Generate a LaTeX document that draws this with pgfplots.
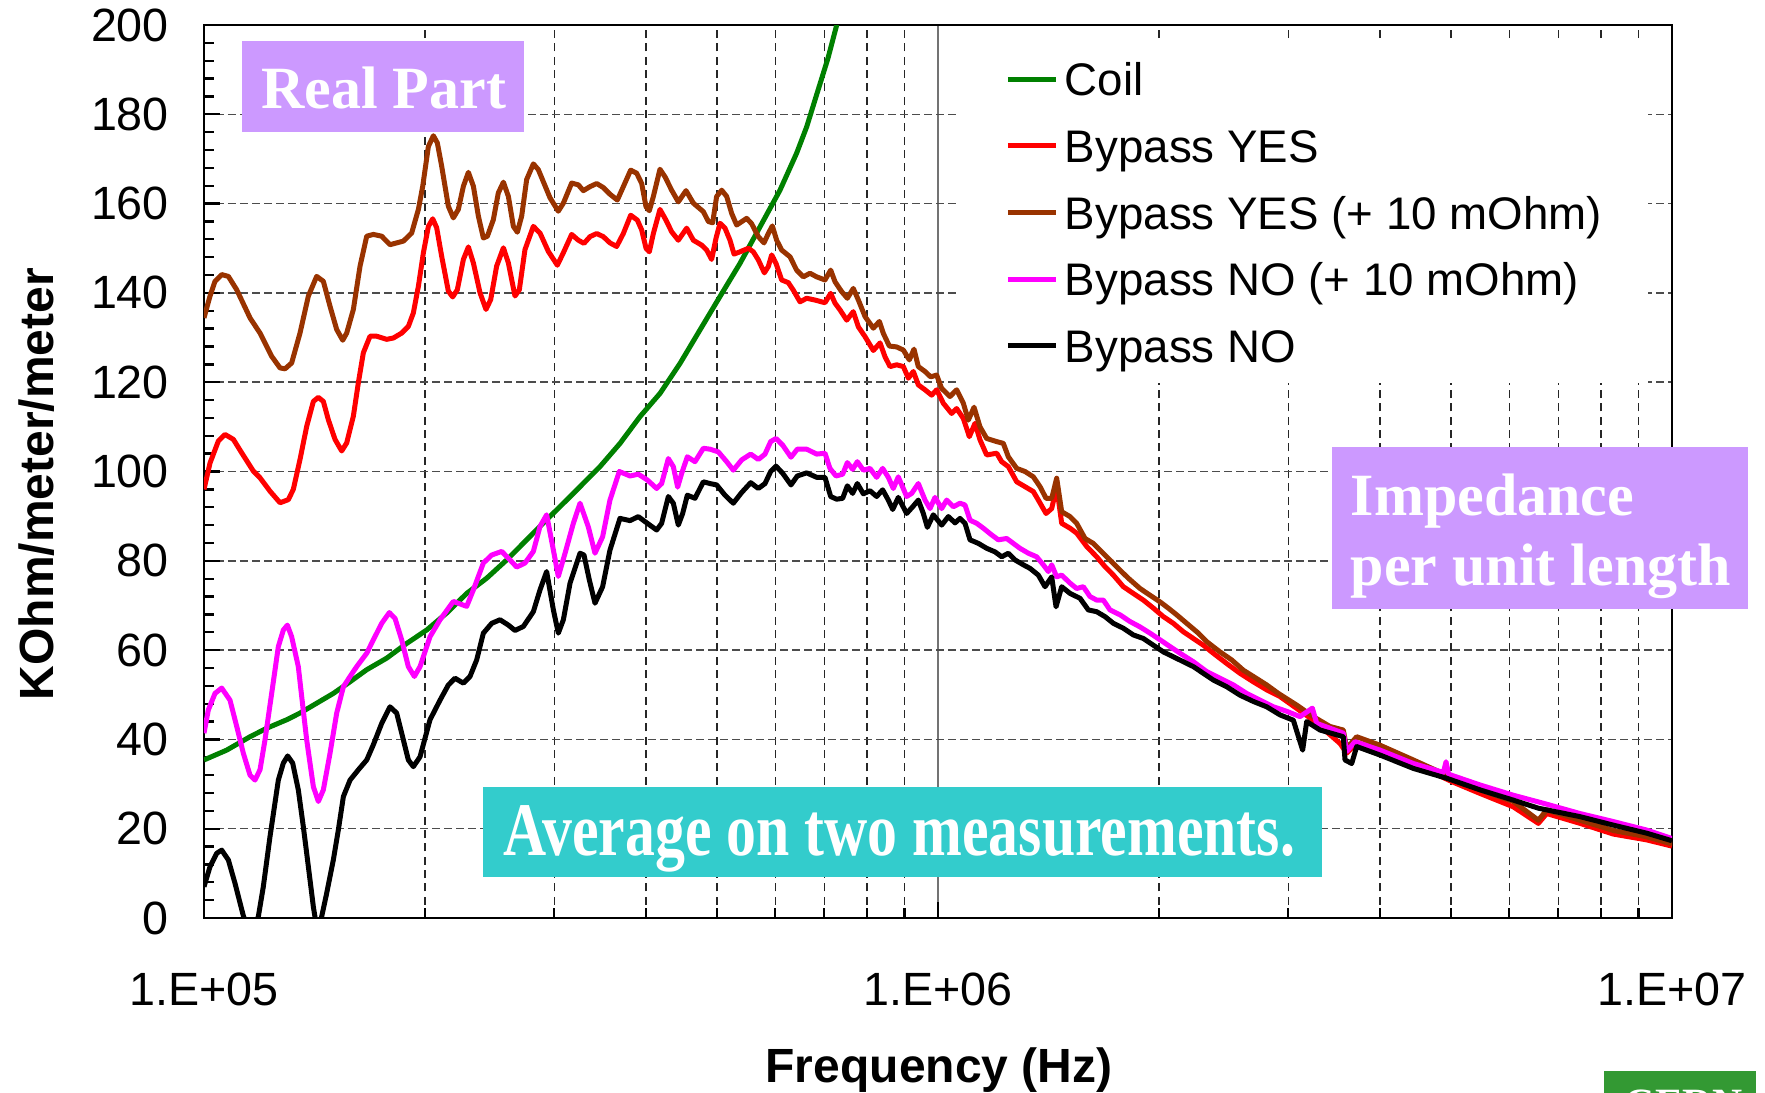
\documentclass[border=0pt]{standalone}
\usepackage{fontspec}
\setmainfont{Liberation Sans}
\newfontfamily\tnr{Liberation Serif}
\usepackage{graphicx}
\usepackage{pgfplots}
\pgfplotsset{compat=1.18}
\definecolor{coilgreen}{RGB}{0,128,0}
\definecolor{bypred}{RGB}{255,0,0}
\definecolor{bypbrown}{RGB}{153,51,0}
\definecolor{bypmag}{RGB}{255,0,255}
\definecolor{boxpurple}{RGB}{204,153,255}
\definecolor{boxcyan}{RGB}{51,204,204}
\definecolor{cerngreen}{RGB}{51,153,51}
\newcommand{\lf}{\fontsize{14}{16.8}\selectfont}
\newcommand{\lgf}{\fontsize{13.7}{16.4}\selectfont}
\newcommand{\bl}{\fontsize{14.4}{17}\selectfont\bfseries}
\begin{document}
\begin{tikzpicture}[x=1pt,y=1pt]
\path[use as bounding box] (0,0) rectangle (529.5,327.6);
\begin{axis}[
  at={(61.2pt,52.2pt)}, anchor=south west,
  scale only axis, width=440.4pt, height=267.9pt,
  xmin=5, xmax=7, ymin=0, ymax=200,
  xtick={5,6,7}, xticklabels={1.E+05,1.E+06,1.E+07},
  minor xtick={5.30103,5.47712,5.60206,5.69897,5.77815,5.84510,5.90309,5.95424,6.30103,6.47712,6.60206,6.69897,6.77815,6.84510,6.90309,6.95424},
  ytick={0,20,...,200}, minor y tick num=4,
  xtick pos=left, ytick pos=left,
  tick align=inside,
  major tick length=4.8pt, minor tick length=3pt,
  tick style={black, line width=0.7pt},
  axis line style={line width=0.8pt},
  xmajorgrids, xminorgrids, ymajorgrids,
  major x grid style={solid, black!55, line width=0.5pt},
  minor x grid style={dash pattern=on 2.4pt off 1.6pt, black!85, line width=0.4pt},
  major y grid style={dash pattern=on 2.4pt off 1.2pt, black!70, line width=0.45pt},
  /pgf/number format/assume math mode=true,
  xticklabel style={font=\lf, yshift=-13pt},
  yticklabel style={font=\lf, xshift=-7pt},
  legend style={at={(0.5136,0.981)}, anchor=north west, draw=none, fill=white,
    inner xsep=14pt, inner ysep=4pt, row sep=6pt, column sep=2pt, font=\lgf,
    nodes={inner sep=0pt, text height=12pt, text depth=2pt}},
  legend cell align=left,
  legend image code/.code={\draw[#1, line width=1.5pt] (0pt,0pt) -- (14.4pt,0pt);},
]
\addplot[coilgreen, line width=1.5pt, line join=round] coordinates {
(5.0000,35.4) (5.0309,37.6) (5.0627,40.6) (5.0854,42.5) (5.1126,44.4) (5.1308,45.9) (5.1535,48.1) (5.1762,50.3) (5.1989,52.9) (5.2216,55.6) (5.2489,58.2) (5.2761,61.5) (5.3034,64.5) (5.3306,68.3) (5.3579,72.7) (5.3851,76.1) (5.4124,80.2) (5.4396,84.7) (5.4668,89.2) (5.4941,93.6) (5.5123,96.6) (5.5395,101.1) (5.5668,106.3) (5.5940,112.3) (5.6213,117.5) (5.6485,124.2) (5.6757,131.7) (5.7030,139.2) (5.7302,146.6) (5.7575,154.8) (5.7847,163.0) (5.8074,171.3) (5.8211,177.2) (5.8324,183.2) (5.8500,192.5) (5.8620,200.0) (5.8750,208.0)
};
\addlegendentry{Coil}
\addplot[bypred, line width=1.5pt, line join=round] coordinates {
(5.0000,96.0) (5.0082,101.9) (5.0195,106.8) (5.0286,108.3) (5.0400,107.2) (5.0513,104.2) (5.0672,100.1) (5.0763,98.6) (5.0899,95.6) (5.1036,93.0) (5.1149,93.7) (5.1217,96.0) (5.1308,102.7) (5.1399,110.1) (5.1490,115.7) (5.1558,116.6) (5.1626,115.7) (5.1694,111.6) (5.1785,107.2) (5.1876,104.6) (5.1944,106.4) (5.2035,112.4) (5.2103,119.9) (5.2171,126.6) (5.2262,130.3) (5.2353,130.3) (5.2489,129.6) (5.2580,129.9) (5.2693,131.0) (5.2784,132.5) (5.2852,135.5) (5.2921,141.5) (5.2989,149.0) (5.3057,154.9) (5.3116,156.6) (5.3170,154.6) (5.3238,148.2) (5.3329,140.4) (5.3388,139.1) (5.3451,140.7) (5.3534,147.5) (5.3602,150.3) (5.3670,146.7) (5.3761,140.0) (5.3842,136.3) (5.3906,138.5) (5.3987,146.0) (5.4079,150.1) (5.4147,146.7) (5.4237,139.3) (5.4296,140.7) (5.4373,149.7) (5.4487,154.9) (5.4578,153.4) (5.4691,149.3) (5.4814,146.2) (5.4896,149.0) (5.5009,153.1) (5.5100,151.8) (5.5177,151.1) (5.5259,152.6) (5.5350,153.3) (5.5440,152.6) (5.5531,151.2) (5.5622,150.4) (5.5713,153.3) (5.5813,157.4) (5.5904,156.3) (5.5963,154.1) (5.6022,150.0) (5.6067,149.2) (5.6122,153.3) (5.6212,158.7) (5.6294,156.3) (5.6371,153.7) (5.6462,151.8) (5.6576,154.5) (5.6667,151.8) (5.6780,150.7) (5.6848,149.6) (5.6916,147.5) (5.6975,152.2) (5.7030,155.6) (5.7098,154.5) (5.7166,151.8) (5.7221,148.7) (5.7302,149.2) (5.7416,150.0) (5.7484,149.2) (5.7552,147.4) (5.7634,144.5) (5.7688,145.9) (5.7734,148.5) (5.7793,146.6) (5.7870,142.9) (5.7961,142.3) (5.8029,140.6) (5.8120,138.0) (5.8211,138.8) (5.8324,138.4) (5.8460,137.8) (5.8538,139.9) (5.8597,137.7) (5.8665,136.2) (5.8756,133.9) (5.8846,135.8) (5.8915,132.4) (5.9006,130.2) (5.9119,127.1) (5.9210,128.8) (5.9278,125.7) (5.9346,123.5) (5.9437,123.9) (5.9528,123.5) (5.9596,120.9) (5.9664,122.4) (5.9732,119.4) (5.9823,118.3) (5.9913,117.1) (5.9982,118.3) (6.0072,115.3) (6.0186,113.0) (6.0254,114.1) (6.0345,111.9) (6.0427,107.8) (6.0504,110.8) (6.0572,107.1) (6.0663,103.7) (6.0800,104.1) (6.0867,102.2) (6.0958,101.1) (6.1072,97.7) (6.1186,96.6) (6.1299,95.5) (6.1367,93.6) (6.1472,90.6) (6.1549,91.7) (6.1617,96.6) (6.1685,88.4) (6.1799,87.3) (6.1889,86.2) (6.2026,83.2) (6.2162,80.9) (6.2275,78.7) (6.2389,76.8) (6.2525,74.2) (6.2661,72.7) (6.2798,71.2) (6.2934,69.4) (6.3070,67.5) (6.3206,66.0) (6.3343,64.1) (6.3479,62.6) (6.3615,61.1) (6.3751,59.3) (6.3933,57.0) (6.4115,54.8) (6.4296,52.9) (6.4478,51.1) (6.4659,49.6) (6.5113,44.3) (6.5477,39.1) (6.5568,36.9) (6.5704,39.2) (6.6022,38.0) (6.6476,34.6) (6.7021,30.4) (6.7384,27.9) (6.7838,24.9) (6.8179,21.2) (6.8293,23.4) (6.8747,21.2) (6.9201,18.8) (6.9655,17.5) (7.0000,16.1)
};
\addlegendentry{Bypass YES}
\addplot[bypbrown, line width=1.5pt, line join=round] coordinates {
(5.0000,134.4) (5.0082,139.3) (5.0150,142.6) (5.0241,144.1) (5.0332,143.7) (5.0446,140.7) (5.0627,134.4) (5.0763,131.0) (5.0922,125.8) (5.1036,123.2) (5.1104,123.0) (5.1194,124.3) (5.1308,131.0) (5.1422,139.3) (5.1535,143.7) (5.1626,142.6) (5.1717,137.0) (5.1808,131.8) (5.1890,129.4) (5.1944,131.0) (5.2035,136.3) (5.2126,146.0) (5.2217,152.7) (5.2307,153.1) (5.2421,152.7) (5.2534,150.8) (5.2716,151.6) (5.2829,153.4) (5.2921,158.7) (5.2980,163.9) (5.3057,172.8) (5.3125,175.2) (5.3179,173.6) (5.3238,168.4) (5.3329,159.4) (5.3397,156.8) (5.3465,158.7) (5.3534,163.9) (5.3602,167.0) (5.3670,163.9) (5.3738,157.2) (5.3806,152.3) (5.3861,152.7) (5.3942,156.4) (5.4010,162.4) (5.4079,164.8) (5.4147,161.6) (5.4215,154.9) (5.4269,153.6) (5.4328,157.2) (5.4396,165.4) (5.4487,168.9) (5.4555,167.6) (5.4714,161.3) (5.4827,158.3) (5.4896,160.1) (5.5009,164.6) (5.5100,164.2) (5.5168,162.9) (5.5259,163.8) (5.5350,164.5) (5.5440,163.6) (5.5531,162.1) (5.5631,160.8) (5.5713,163.8) (5.5813,167.5) (5.5895,166.8) (5.5963,164.5) (5.6022,159.3) (5.6067,158.4) (5.6122,161.6) (5.6212,167.7) (5.6281,166.0) (5.6371,163.0) (5.6462,160.4) (5.6567,162.9) (5.6667,160.1) (5.6803,158.2) (5.6871,156.0) (5.6930,155.7) (5.6984,161.6) (5.7053,163.0) (5.7121,161.6) (5.7189,157.8) (5.7257,155.2) (5.7393,156.7) (5.7461,155.5) (5.7552,152.6) (5.7629,151.2) (5.7688,153.3) (5.7743,155.0) (5.7802,151.8) (5.7870,149.6) (5.7983,148.1) (5.8074,145.1) (5.8165,143.6) (5.8256,144.4) (5.8347,143.6) (5.8460,142.9) (5.8538,145.1) (5.8597,142.5) (5.8687,140.3) (5.8765,138.8) (5.8846,141.0) (5.8915,138.4) (5.9006,134.7) (5.9119,132.1) (5.9201,133.6) (5.9256,130.9) (5.9337,128.1) (5.9437,127.9) (5.9528,127.2) (5.9609,125.0) (5.9673,127.4) (5.9732,123.5) (5.9823,122.4) (5.9900,121.2) (5.9982,121.6) (6.0050,118.6) (6.0163,116.8) (6.0254,118.3) (6.0345,115.3) (6.0413,111.5) (6.0491,114.4) (6.0572,110.0) (6.0663,107.4) (6.0800,106.7) (6.0890,106.3) (6.0958,103.3) (6.1072,100.7) (6.1186,100.0) (6.1299,98.8) (6.1390,96.6) (6.1472,94.0) (6.1549,94.0) (6.1617,98.5) (6.1685,91.0) (6.1799,89.9) (6.1889,88.4) (6.2003,85.0) (6.2116,83.9) (6.2230,82.0) (6.2366,79.8) (6.2480,77.9) (6.2593,76.1) (6.2752,73.8) (6.2888,72.3) (6.3025,70.8) (6.3138,69.4) (6.3252,67.9) (6.3388,66.0) (6.3547,63.8) (6.3660,61.9) (6.3842,59.6) (6.4001,57.8) (6.4160,55.5) (6.4296,54.1) (6.4478,52.2) (6.4637,50.3) (6.4886,47.7) (6.5113,45.1) (6.5340,42.9) (6.5522,42.1) (6.5568,38.0) (6.5704,40.6) (6.6022,38.7) (6.6476,35.4) (6.6930,32.0) (6.7384,28.7) (6.7838,26.1) (6.8179,21.9) (6.8293,24.2) (6.8747,21.9) (6.9201,19.6) (6.9655,18.2) (7.0000,16.6)
};
\addlegendentry{Bypass YES (+ 10 mOhm)}
\addplot[bypmag, line width=1.5pt, line join=round] coordinates {
(5.0000,41.4) (5.0059,46.6) (5.0150,50.3) (5.0241,51.5) (5.0354,48.8) (5.0446,42.9) (5.0536,36.9) (5.0627,32.0) (5.0695,30.9) (5.0763,33.2) (5.0831,39.9) (5.0922,50.3) (5.1013,60.8) (5.1081,64.5) (5.1136,65.6) (5.1194,63.0) (5.1285,56.3) (5.1331,49.6) (5.1399,39.9) (5.1490,29.4) (5.1558,26.1) (5.1626,28.7) (5.1717,36.9) (5.1808,45.9) (5.1899,51.8) (5.1990,54.1) (5.2080,56.3) (5.2217,59.3) (5.2307,62.3) (5.2421,66.0) (5.2525,68.4) (5.2603,67.1) (5.2693,62.3) (5.2784,56.3) (5.2866,54.1) (5.2943,56.3) (5.3079,63.0) (5.3216,66.8) (5.3397,70.9) (5.3579,69.8) (5.3670,73.5) (5.3806,79.5) (5.3920,81.3) (5.4056,82.1) (5.4169,80.2) (5.4260,78.6) (5.4373,79.5) (5.4487,82.1) (5.4578,87.7) (5.4668,90.3) (5.4760,82.4) (5.4827,76.5) (5.4919,81.7) (5.5032,88.4) (5.5123,92.9) (5.5236,87.6) (5.5327,81.7) (5.5431,85.4) (5.5531,93.6) (5.5658,100.0) (5.5804,99.0) (5.5917,99.4) (5.6040,98.1) (5.6167,96.2) (5.6235,97.3) (5.6326,102.9) (5.6394,101.1) (5.6453,96.5) (5.6508,99.6) (5.6585,103.3) (5.6689,102.2) (5.6803,105.2) (5.6894,105.0) (5.7007,104.4) (5.7121,102.2) (5.7211,100.3) (5.7325,102.6) (5.7448,103.9) (5.7552,102.7) (5.7643,103.9) (5.7720,106.7) (5.7793,107.4) (5.7884,105.9) (5.7997,103.2) (5.8083,105.0) (5.8211,105.0) (5.8347,103.9) (5.8460,104.1) (5.8528,100.7) (5.8610,99.0) (5.8701,99.4) (5.8765,102.0) (5.8837,100.5) (5.8901,102.2) (5.8983,100.3) (5.9073,100.7) (5.9164,98.7) (5.9246,100.7) (5.9323,98.7) (5.9391,96.2) (5.9459,98.8) (5.9573,94.4) (5.9641,95.1) (5.9732,97.3) (5.9823,93.6) (5.9891,91.7) (5.9959,94.2) (6.0050,91.7) (6.0118,93.6) (6.0209,92.1) (6.0300,92.9) (6.0368,92.5) (6.0436,89.1) (6.0527,88.4) (6.0618,87.3) (6.0731,85.8) (6.0822,84.7) (6.0936,85.0) (6.1026,83.9) (6.1117,82.8) (6.1231,81.7) (6.1344,80.9) (6.1435,79.1) (6.1503,77.6) (6.1549,79.1) (6.1617,76.4) (6.1685,76.8) (6.1799,75.0) (6.1889,73.8) (6.1980,74.2) (6.2071,72.0) (6.2162,71.2) (6.2253,71.2) (6.2343,69.0) (6.2480,67.9) (6.2616,66.4) (6.2752,65.2) (6.2888,63.8) (6.3025,62.3) (6.3161,60.8) (6.3297,59.3) (6.3479,57.4) (6.3660,55.2) (6.3842,53.7) (6.4024,52.2) (6.4205,50.3) (6.4387,48.8) (6.4569,47.3) (6.4750,46.3) (6.4932,45.1) (6.5100,47.0) (6.5159,43.6) (6.5522,41.4) (6.5568,37.3) (6.5681,39.5) (6.6022,37.6) (6.6476,34.6) (6.6885,32.6) (6.6921,35.0) (6.6957,32.2) (6.7384,29.8) (6.7838,27.5) (6.8247,25.7) (6.8747,23.4) (6.9201,21.6) (6.9655,19.7) (7.0000,17.8)
};
\addlegendentry{Bypass NO (+ 10 mOhm)}
\addplot[black, line width=1.5pt, line join=round] coordinates {
(5.0000,7.0) (5.0082,11.5) (5.0173,14.5) (5.0241,15.2) (5.0332,13.0) (5.0422,7.8) (5.0536,0.5) (5.0636,-4) (5.0740,0.3) (5.0808,7.0) (5.0899,18.2) (5.1013,30.9) (5.1081,34.7) (5.1140,36.3) (5.1208,34.7) (5.1285,28.7) (5.1353,20.5) (5.1422,11.5) (5.1490,2.5) (5.1544,-3) (5.1603,0.3) (5.1671,5.5) (5.1762,13.0) (5.1830,19.7) (5.1899,27.2) (5.1990,30.9) (5.2103,33.2) (5.2217,35.4) (5.2307,38.8) (5.2421,43.6) (5.2534,47.3) (5.2625,45.9) (5.2716,39.9) (5.2784,35.4) (5.2852,33.9) (5.2943,36.1) (5.3079,44.4) (5.3216,48.8) (5.3329,52.2) (5.3420,53.7) (5.3534,52.6) (5.3624,54.1) (5.3715,57.8) (5.3806,63.8) (5.3920,66.0) (5.4033,66.8) (5.4147,65.6) (5.4237,64.4) (5.4351,65.3) (5.4487,68.6) (5.4578,73.5) (5.4668,77.6) (5.4760,69.0) (5.4827,63.8) (5.4896,66.8) (5.4987,75.0) (5.5123,81.7) (5.5177,81.3) (5.5250,75.7) (5.5327,70.5) (5.5431,74.2) (5.5531,82.4) (5.5667,89.5) (5.5804,89.0) (5.5917,89.9) (5.6040,88.4) (5.6167,86.9) (5.6235,88.4) (5.6326,94.4) (5.6394,92.9) (5.6462,88.0) (5.6521,90.6) (5.6585,94.7) (5.6689,94.0) (5.6803,97.7) (5.6894,97.3) (5.6984,97.0) (5.7098,94.7) (5.7211,92.9) (5.7325,95.3) (5.7448,97.5) (5.7552,96.2) (5.7643,97.3) (5.7720,100.0) (5.7793,101.2) (5.7884,99.6) (5.7997,97.0) (5.8083,99.0) (5.8211,99.7) (5.8347,98.7) (5.8460,98.7) (5.8538,94.4) (5.8619,93.8) (5.8701,94.0) (5.8765,96.8) (5.8837,95.1) (5.8901,97.3) (5.8983,95.0) (5.9073,95.7) (5.9164,94.4) (5.9246,95.9) (5.9323,93.6) (5.9383,91.5) (5.9459,94.2) (5.9573,90.6) (5.9655,92.1) (5.9732,93.6) (5.9800,90.6) (5.9855,87.5) (5.9936,90.3) (6.0050,88.0) (6.0141,89.9) (6.0232,88.5) (6.0300,89.5) (6.0368,88.4) (6.0436,84.7) (6.0550,83.9) (6.0663,82.8) (6.0777,82.0) (6.0868,80.9) (6.0958,81.7) (6.1049,80.2) (6.1163,79.1) (6.1254,78.3) (6.1367,76.8) (6.1458,74.2) (6.1549,76.4) (6.1608,69.7) (6.1685,74.2) (6.1799,72.7) (6.1935,71.6) (6.2048,69.0) (6.2162,68.6) (6.2275,67.5) (6.2389,66.0) (6.2525,64.9) (6.2661,63.4) (6.2798,62.6) (6.2934,61.1) (6.3070,59.6) (6.3206,58.5) (6.3343,57.4) (6.3479,56.3) (6.3615,54.8) (6.3751,53.3) (6.3933,51.8) (6.4115,49.9) (6.4296,48.5) (6.4478,47.3) (6.4659,45.5) (6.4841,44.3) (6.4968,37.6) (6.5023,44.0) (6.5205,42.1) (6.5522,40.6) (6.5545,35.4) (6.5636,34.6) (6.5704,38.4) (6.6022,36.5) (6.6476,33.5) (6.6930,31.3) (6.7384,28.7) (6.7838,26.4) (6.8179,24.6) (6.8747,22.7) (6.9201,20.8) (6.9655,19.0) (7.0000,17.3)
};
\addlegendentry{Bypass NO}
\end{axis}
% axis titles
\node[rotate=90, font=\bl, anchor=center, inner sep=0pt] at (11.1,182.4) {KOhm/meter/meter};
\node[anchor=north, font=\bl, inner sep=0pt] at (281.7,13.5) {Frequency (Hz)};
% annotation boxes
\fill[boxpurple] (72.6,288.1) rectangle (157.05,315.3);
\node[anchor=base, text=white, font=\tnr\bfseries\fontsize{18}{20}\selectfont, inner sep=0pt] at (115.1,295.1) {Real Part};
\fill[boxpurple] (399.6,144.9) rectangle (524.4,193.5);
\node[anchor=base west, text=white, font=\tnr\bfseries\fontsize{18}{20}\selectfont, inner sep=0pt] at (405,172.9) {Impedance};
\node[anchor=base west, text=white, font=\tnr\bfseries\fontsize{18}{20}\selectfont, inner sep=0pt] at (405,152.1) {per unit length};
\fill[boxcyan] (144.9,64.5) rectangle (396.6,91.5);
\node[anchor=base west, text=white, font=\tnr\bfseries\fontsize{22.7}{24}\selectfont, inner sep=0pt] at (150.9,71.1) {\scalebox{0.79}[1]{Average on two measurements.}};
\fill[cerngreen] (481.2,-5) rectangle (526.8,6.3);
\node[anchor=north, text=white, font=\tnr\bfseries\fontsize{12.5}{14}\selectfont, inner sep=0pt] at (505.2,0.9) {CERN};
\end{tikzpicture}
\end{document}
